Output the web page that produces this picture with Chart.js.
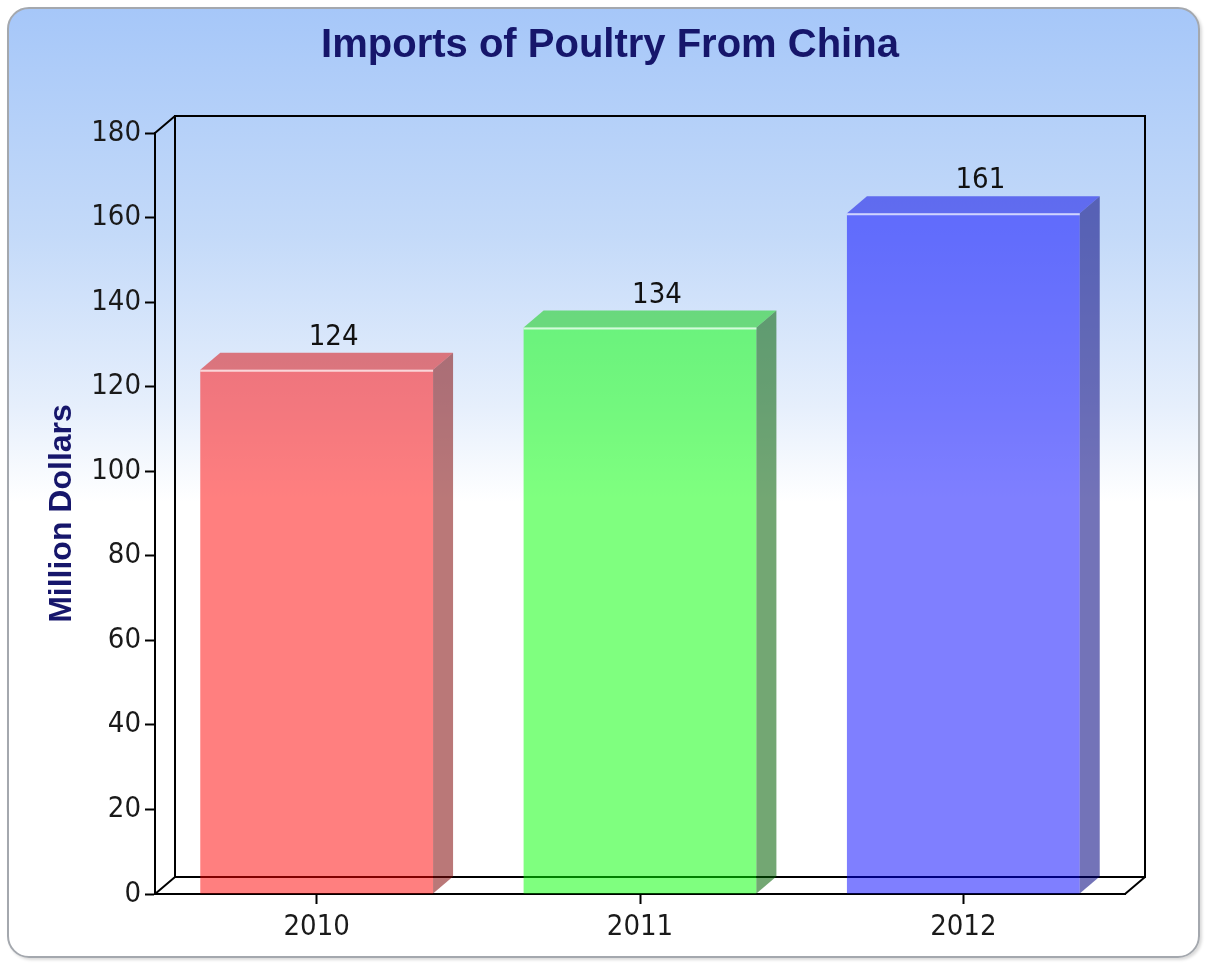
<!DOCTYPE html>
<html>
<head>
<meta charset="utf-8">
<script src="https://cdn.jsdelivr.net/npm/chart.js@4.4.1/dist/chart.umd.min.js"></script>
<style>
  html, body { margin: 0; padding: 0; background: #fff; width: 1206px; height: 964px; overflow: hidden; }
  #panel {
    position: absolute; left: 7px; top: 7px; width: 1193px; height: 951px;
    box-sizing: border-box; border: 2px solid #a4a8ae; border-radius: 22px;
    background: linear-gradient(to bottom, #a6c7f9 0%, #c4daf9 24%, #e6effc 42%, #ffffff 52%, #ffffff 100%);
    box-shadow: 2px 2px 3px rgba(0,0,0,0.15);
  }
  #chart { position: absolute; left: 0; top: 0; }
</style>
</head>
<body>
<div id="panel"></div>
<canvas id="chart" width="1206" height="964"></canvas>
<script>
// dados do gráfico
const years = ['2010', '2011', '2012'];
const imports = [124, 134, 161];
const yMin = 0;
const yMax = 180;
const yStep = 20;

// cores: frente, lateral e topo de cada barra
const frontColors = ['rgba(255,0,0,0.5)', 'rgba(0,255,0,0.5)', 'rgba(0,0,255,0.5)'];
const sideColors = ['rgba(130,10,10,0.55)', 'rgba(0,95,0,0.55)', 'rgba(0,0,125,0.55)'];
const topColors = ['rgba(215,0,0,0.5)', 'rgba(0,205,0,0.5)', 'rgba(0,0,230,0.5)'];

const tickFont = "'DejaVu Sans Condensed', 'Liberation Sans', sans-serif";
const depthX = 20;
const depthY = -17;

// efeito 3D: parede de fundo, piso e faces das barras
const threeD = {
    id: 'threeD',
    beforeDatasetsDraw(chart) {
        const {ctx, chartArea: a} = chart;
        ctx.save();
        ctx.strokeStyle = '#000';
        ctx.lineWidth = 2;
        ctx.beginPath();
        ctx.rect(a.left + depthX, a.top + depthY, a.right - a.left, a.bottom - a.top);
        ctx.moveTo(a.left, a.top);
        ctx.lineTo(a.left + depthX, a.top + depthY);
        ctx.moveTo(a.left, a.bottom);
        ctx.lineTo(a.left + depthX, a.bottom + depthY);
        ctx.moveTo(a.right, a.bottom);
        ctx.lineTo(a.right + depthX, a.bottom + depthY);
        ctx.stroke();
        ctx.restore();
    },
    afterDatasetsDraw(chart) {
        const {ctx} = chart;
        const meta = chart.getDatasetMeta(0);
        ctx.save();
        meta.data.forEach((bar, i) => {
            const left = bar.x - bar.width / 2;
            const right = bar.x + bar.width / 2;
            // lateral
            ctx.fillStyle = sideColors[i];
            ctx.beginPath();
            ctx.moveTo(right, bar.y);
            ctx.lineTo(right + depthX, bar.y + depthY);
            ctx.lineTo(right + depthX, bar.base + depthY);
            ctx.lineTo(right, bar.base);
            ctx.closePath();
            ctx.fill();
            // topo
            ctx.fillStyle = topColors[i];
            ctx.beginPath();
            ctx.moveTo(left, bar.y);
            ctx.lineTo(left + depthX, bar.y + depthY);
            ctx.lineTo(right + depthX, bar.y + depthY);
            ctx.lineTo(right, bar.y);
            ctx.closePath();
            ctx.fill();
            // brilho na aresta
            ctx.strokeStyle = 'rgba(255,255,255,0.7)';
            ctx.lineWidth = 2;
            ctx.beginPath();
            ctx.moveTo(left, bar.y + 1);
            ctx.lineTo(right, bar.y + 1);
            ctx.stroke();
            // rótulo do valor
            ctx.fillStyle = '#111';
            ctx.font = '29px ' + tickFont;
            ctx.textAlign = 'center';
            ctx.textBaseline = 'bottom';
            ctx.fillText(String(imports[i]), bar.x + 17, bar.y + depthY - 1);
        });
        ctx.restore();
    }
};

new Chart(document.getElementById('chart').getContext('2d'), {
    type: 'bar',
    data: {
        labels: years,
        datasets: [{
            data: imports,
            backgroundColor: frontColors,
            borderWidth: 0
        }]
    },
    options: {
        responsive: false,
        animation: false,
        layout: { padding: { left: 14, right: 0, top: 0, bottom: 20 } },
        plugins: {
            legend: { display: false },
            tooltip: { enabled: false },
            title: {
                display: true,
                text: 'Imports of Poultry From China',
                color: '#16166b',
                font: { family: "'Liberation Sans', Arial, sans-serif", size: 40, weight: 'bold' },
                padding: { top: 22, bottom: 63 }
            }
        },
        scales: {
            x: {
                grid: { offset: false, drawOnChartArea: false, drawTicks: true, tickLength: 10, tickColor: '#000', tickWidth: 2 },
                border: { color: '#000', width: 2 },
                ticks: { color: '#1a1a1a', padding: 6, font: { family: tickFont, size: 29 } },
                afterFit: (scale) => { scale.height = 50; }
            },
            y: {
                min: yMin,
                max: yMax,
                grid: { drawOnChartArea: false, drawTicks: true, tickLength: 10, tickColor: '#000', tickWidth: 2 },
                border: { color: '#000', width: 2 },
                ticks: { stepSize: yStep, color: '#1a1a1a', padding: 4, font: { family: tickFont, size: 29 } },
                title: {
                    display: true,
                    text: 'Million Dollars',
                    color: '#16166b',
                    font: { family: "'Liberation Sans', Arial, sans-serif", size: 32, weight: 'bold' },
                    padding: { top: 29, bottom: 0 }
                },
                afterFit: (scale) => { scale.width = 141; }
            },
            // eixo vazio à direita só para reservar espaço da profundidade
            side: {
                type: 'linear',
                position: 'right',
                grid: { display: false },
                border: { display: false },
                ticks: { display: false },
                afterFit: (scale) => { scale.width = 81; }
            }
        }
    },
    plugins: [threeD]
});
</script>
</body>
</html>
